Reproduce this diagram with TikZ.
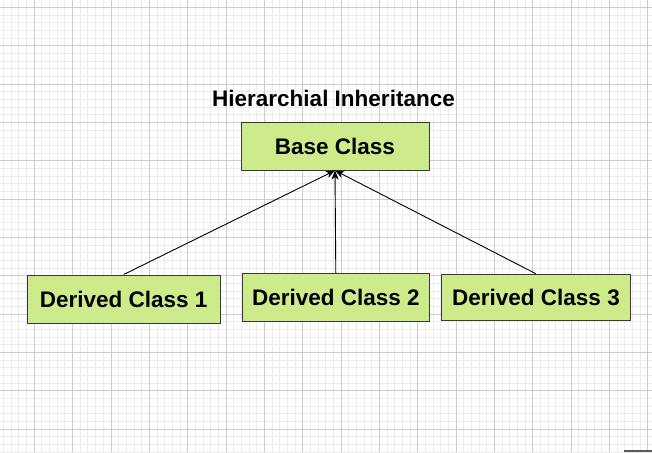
\documentclass[tikz,border=0pt]{standalone}
\usepackage{fontspec}
\setmainfont{Liberation Sans}
\usetikzlibrary{arrows.meta}
\definecolor{boxfill}{HTML}{CDEB8B}
\definecolor{boxline}{HTML}{36393D}
\definecolor{minorg}{HTML}{ECECEC}
\definecolor{majorg}{HTML}{CCCCCC}
\tikzset{
  classbox/.style={draw=boxline, fill=boxfill, line width=1pt, inner sep=0pt,
    minimum height=48pt, text height=16.1pt, text depth=0pt,
    font=\fontsize{22.5}{27}\selectfont\bfseries},
  titletext/.style={inner sep=0pt, anchor=base, font=\fontsize{22.5}{27}\selectfont\bfseries},
  arr/.style={draw=black, line width=0.9pt, -{Stealth[length=9pt,width=7pt,inset=2.5pt]}},
  minorline/.style={draw=minorg, line width=1pt},
  majorline/.style={draw=majorg, line width=1pt}
}
\begin{document}
\begin{tikzpicture}[x=1pt,y=-1pt]
\useasboundingbox (0,0) rectangle (652,452);
\fill[white] (0,0) rectangle (652,452);
\begin{scope}
\clip (0,0) rectangle (652,452);
\foreach \i in {0,...,86} \draw[minorline] ({-4.05+7.67*\i},0) -- ++(0,452);
\foreach \i in {0,...,60} \draw[minorline] (0,{-0.32+7.67*\i}) -- ++(652,0);
\foreach \i in {0,...,16} \draw[majorline] ({34.3+38.35*\i},0) -- ++(0,452);
\foreach \i in {-1,...,10} \draw[majorline] (0,{45.7+38.35*\i}) -- ++(652,0);
\draw[draw=black!65, line width=1.5pt] (624,451.2) -- (652,451.2);
\end{scope}
\node[titletext] (title) at (333.5,106.7) {Hierarchial Inheritance};
\node[classbox, minimum width=188pt] (base) at (335,146) {Base Class};
\node[classbox, minimum width=193pt] (d1) at (123.7,299) {Derived Class 1};
\node[classbox, minimum width=187pt] (d2) at (335.8,297.3) {Derived Class 2};
\node[classbox, minimum width=188.6pt, minimum height=46pt] (d3) at (536,297.3) {Derived Class 3};
\draw[arr] (d1.north) -- (base.south);
\draw[arr] (d2.north) -- (base.south);
\draw[arr] (d3.north) -- (base.south);
\end{tikzpicture}
\end{document}
